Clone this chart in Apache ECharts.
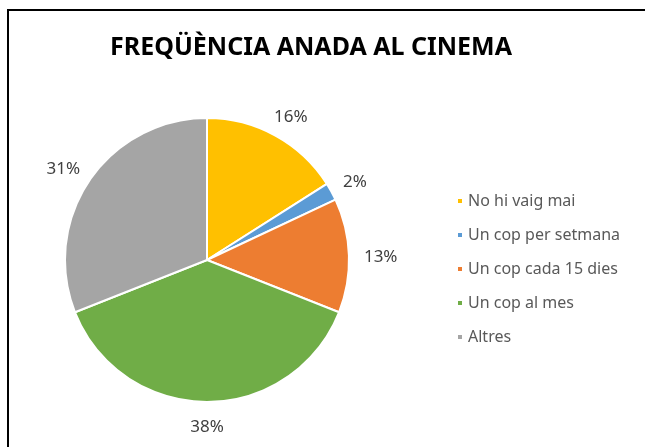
<!DOCTYPE html>
<html>
<head>
<meta charset="utf-8">
<script src="https://cdn.jsdelivr.net/npm/echarts@6/dist/echarts.min.js"></script>
<style>
  html, body { margin: 0; padding: 0; background: #fff; overflow: hidden; }
  #chart { width: 645px; height: 447px; }
</style>
</head>
<body>
<div id="chart"></div>
<script>
const categories = ['No hi vaig mai', 'Un cop per setmana', 'Un cop cada 15 dies', 'Un cop al mes', 'Altres']
const values = [16, 2, 13, 38, 31]
const colors = ['#FFC000', '#5B9BD5', '#ED7D31', '#70AD47', '#A5A5A5']

const cx = 207
const cy = 260
const R = 142
const labelDist = 157

const total = values.reduce((a, b) => a + b, 0)

const chart = echarts.init(document.getElementById('chart'))

// put each percentage label just outside its slice, centred on the slice's mid angle
function placeLabel(params) {
  const i = params.dataIndex
  let before = 0
  for (let k = 0; k < i; k++) before += values[k]
  const a = 2 * Math.PI * (before + values[i] / 2) / total
  const dx = Math.sin(a)
  const dy = -Math.cos(a)
  const w = params.labelRect.width
  const h = params.labelRect.height
  return {
    x: cx + dx * labelDist + dx * w / 2,
    y: cy + dy * labelDist + dy * h / 2 + 2,
    align: 'center',
    verticalAlign: 'middle'
  }
}

chart.setOption({
  color: colors,
  title: {
    text: 'FREQÜÈNCIA ANADA AL CINEMA',
    left: 105,
    top: 30,
    textStyle: {
      fontFamily: 'Noto Sans',
      fontWeight: 'bold',
      fontSize: 25,
      color: '#000'
    }
  },
  graphic: [{
    type: 'rect',
    shape: { x: 8, y: 10, width: 700, height: 500 },
    style: { fill: 'none', stroke: '#000', lineWidth: 2 }
  }],
  legend: {
    orient: 'vertical',
    left: 451,
    top: 188,
    itemWidth: 6,
    itemHeight: 6,
    itemGap: 18,
    icon: 'rect',
    textStyle: {
      fontFamily: 'Noto Sans',
      fontSize: 16,
      color: '#595959'
    },
    data: categories
  },
  series: [{
    type: 'pie',
    center: [cx, cy],
    radius: R,
    startAngle: 90,
    clockwise: true,
    animation: false,
    silent: true,
    itemStyle: {
      borderColor: '#fff',
      borderWidth: 2
    },
    label: {
      position: 'outside',
      formatter: '{d}%',
      fontFamily: 'Noto Sans',
      fontSize: 17,
      color: '#404040',
      overflow: 'none',
      width: 60
    },
    labelLine: { show: false },
    labelLayout: placeLabel,
    data: categories.map((name, i) => ({ name, value: values[i] }))
  }]
})
</script>
</body>
</html>
